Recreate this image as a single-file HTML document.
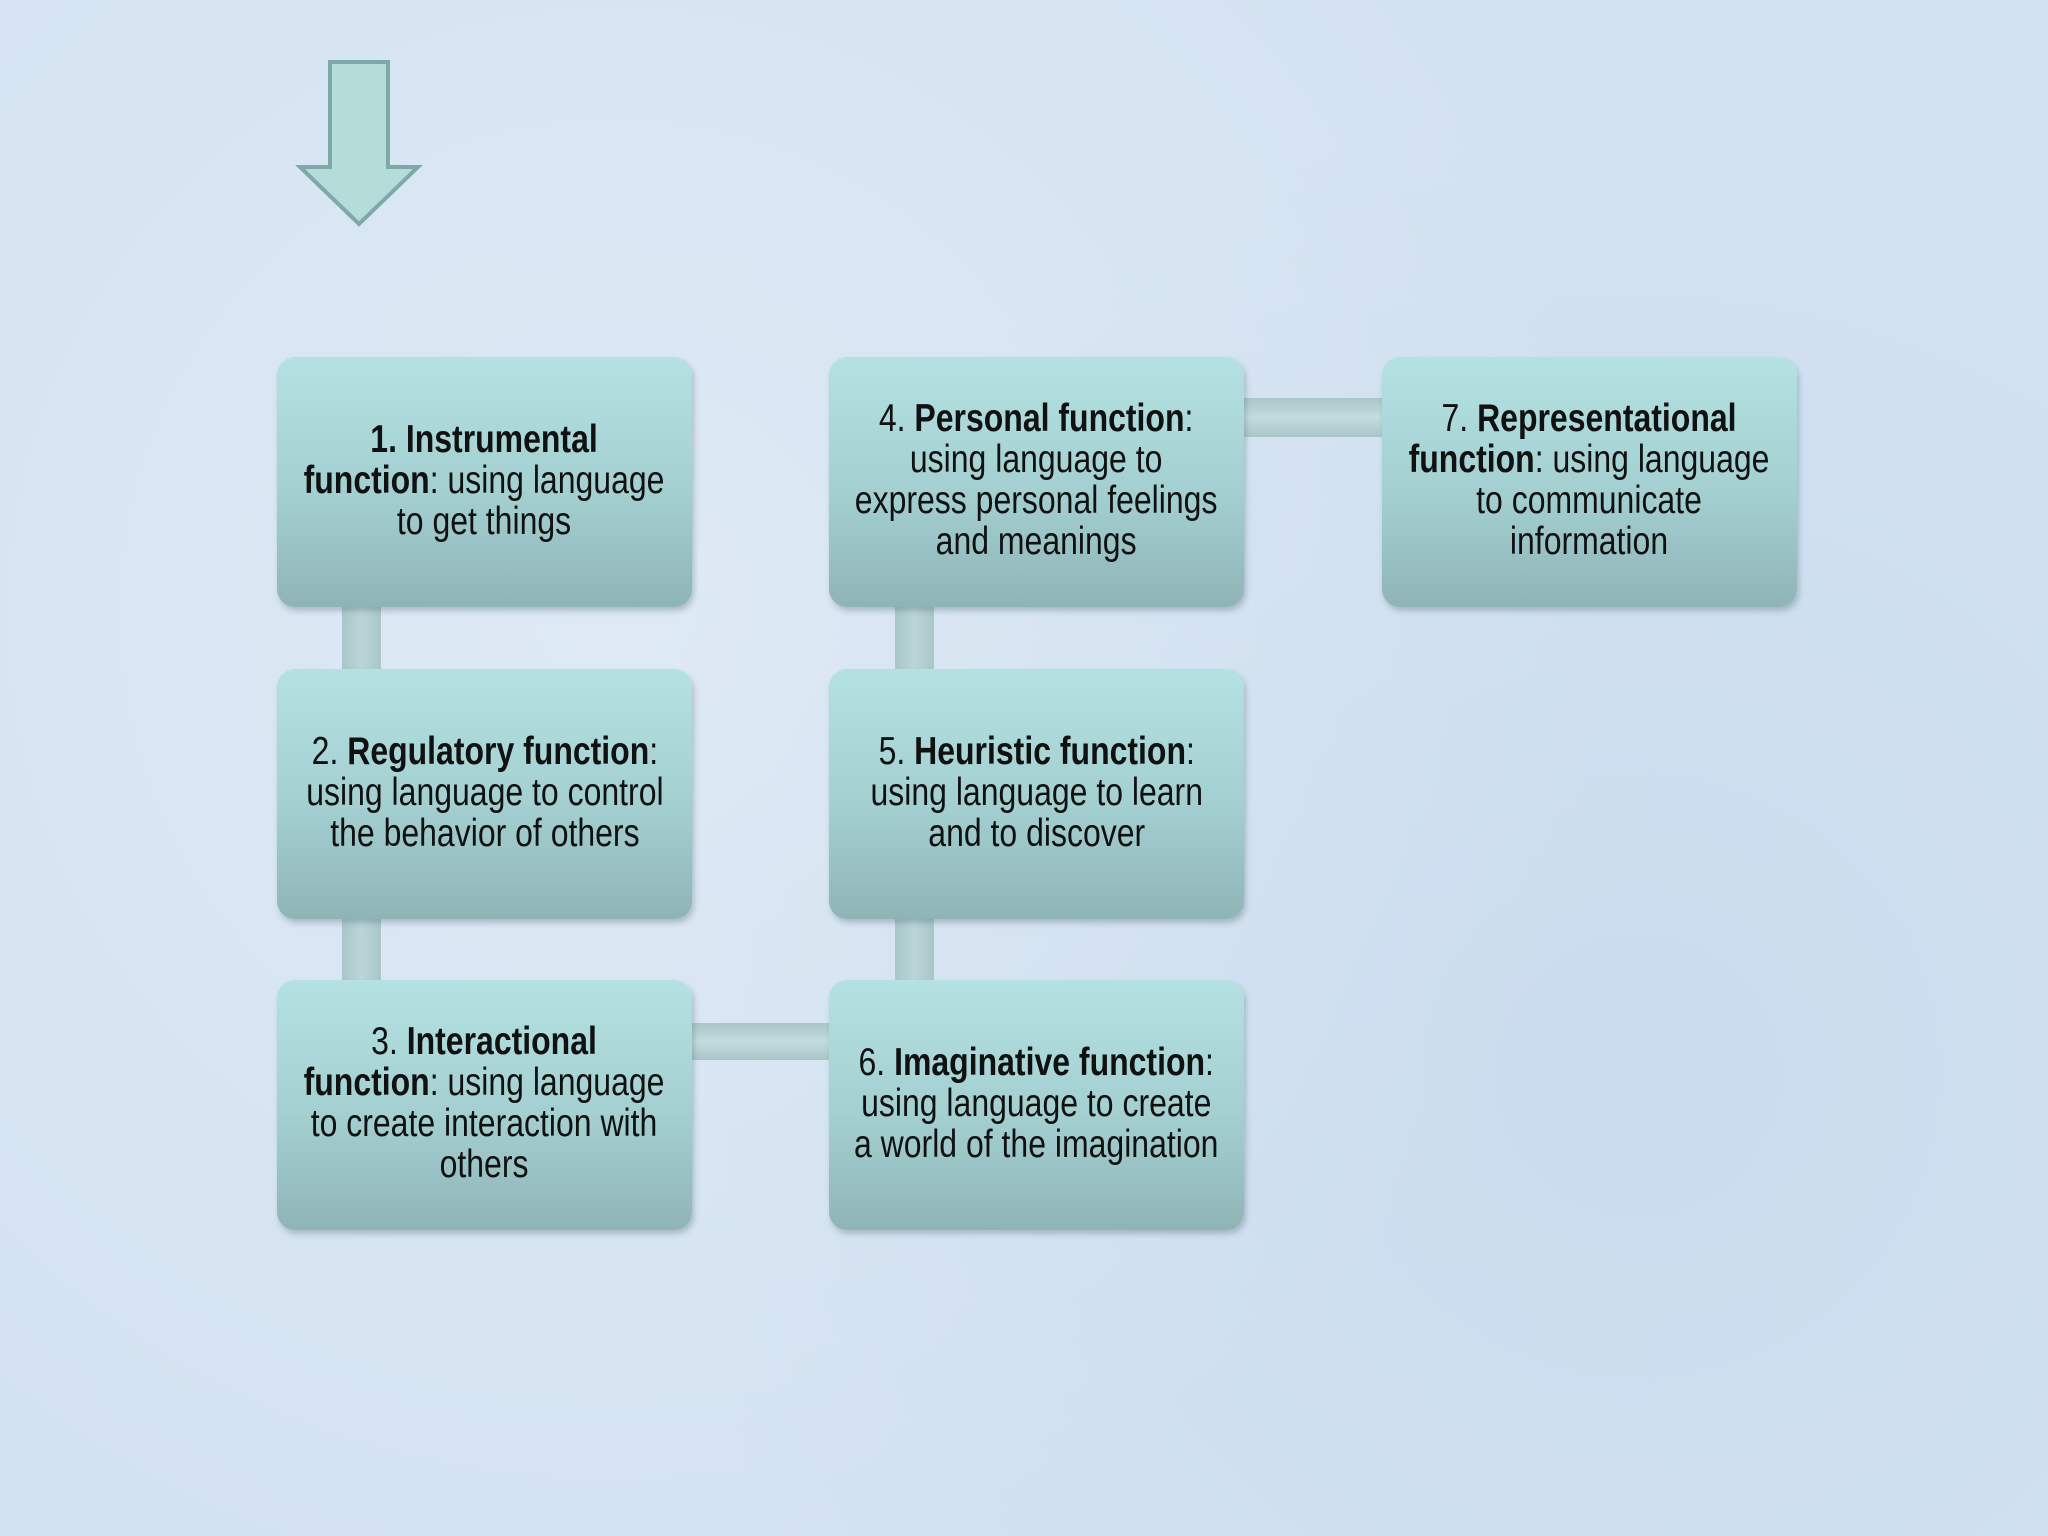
<!DOCTYPE html>
<html><head><meta charset="utf-8"><style>
html,body{margin:0;padding:0}
body{width:2048px;height:1536px;position:relative;overflow:hidden;background:#d3e2f1;
background-image:radial-gradient(circle at 30% 40%,rgba(255,255,255,.25),transparent 60%),radial-gradient(circle at 80% 70%,rgba(180,205,230,.3),transparent 50%);}
.box{position:absolute;width:415px;height:250px;border-radius:18px;
background:linear-gradient(#b4e1e2,#a3cfd1 55%,#8fb4b6);box-shadow:2px 4px 6px rgba(80,110,120,.35);
display:flex;align-items:center;justify-content:center;text-align:center;
font-family:"Liberation Sans",sans-serif;font-size:39px;line-height:41px;color:#111;}
.box>div{white-space:nowrap;transform:translateY(-2px) scaleX(0.82);}
b{font-weight:bold}
.c{position:absolute;background:linear-gradient(90deg,#a9c6c9,#bcd6d8,#a9c6c9)}
.h{background:linear-gradient(#a9c6c9,#c4dcde,#a9c6c9)}
</style></head><body>
<svg style="position:absolute;left:0;top:0" width="2048" height="400">
<polygon points="330,62 388,62 388,167 418,167 359,224 300,167 330,167" fill="#b4dcd9" stroke="#7fa9a8" stroke-width="4"/>
</svg>
<div class="c" style="left:342px;top:600px;width:39px;height:75px"></div>
<div class="c" style="left:342px;top:912px;width:39px;height:75px"></div>
<div class="c" style="left:895px;top:600px;width:39px;height:75px"></div>
<div class="c" style="left:895px;top:912px;width:39px;height:75px"></div>
<div class="c h" style="left:688px;top:1023px;width:146px;height:37px"></div>
<div class="c h" style="left:1240px;top:398px;width:146px;height:39px"></div>

<div class="box" style="left:277px;top:357px"><div><b>1. Instrumental</b><br><b>function</b>: using language<br>to get things</div></div>
<div class="box" style="left:277px;top:669px"><div>2. <b>Regulatory function</b>:<br>using language to control<br>the behavior of others</div></div>
<div class="box" style="left:277px;top:980px"><div>3. <b>Interactional</b><br><b>function</b>: using language<br>to create interaction with<br>others</div></div>
<div class="box" style="left:829px;top:357px"><div>4. <b>Personal function</b>:<br>using language to<br>express personal feelings<br>and meanings</div></div>
<div class="box" style="left:829px;top:669px"><div>5. <b>Heuristic function</b>:<br>using language to learn<br>and to discover</div></div>
<div class="box" style="left:829px;top:980px"><div>6. <b>Imaginative function</b>:<br>using language to create<br>a world of the imagination</div></div>
<div class="box" style="left:1382px;top:357px"><div>7. <b>Representational</b><br><b>function</b>: using language<br>to communicate<br>information</div></div>
</body></html>
